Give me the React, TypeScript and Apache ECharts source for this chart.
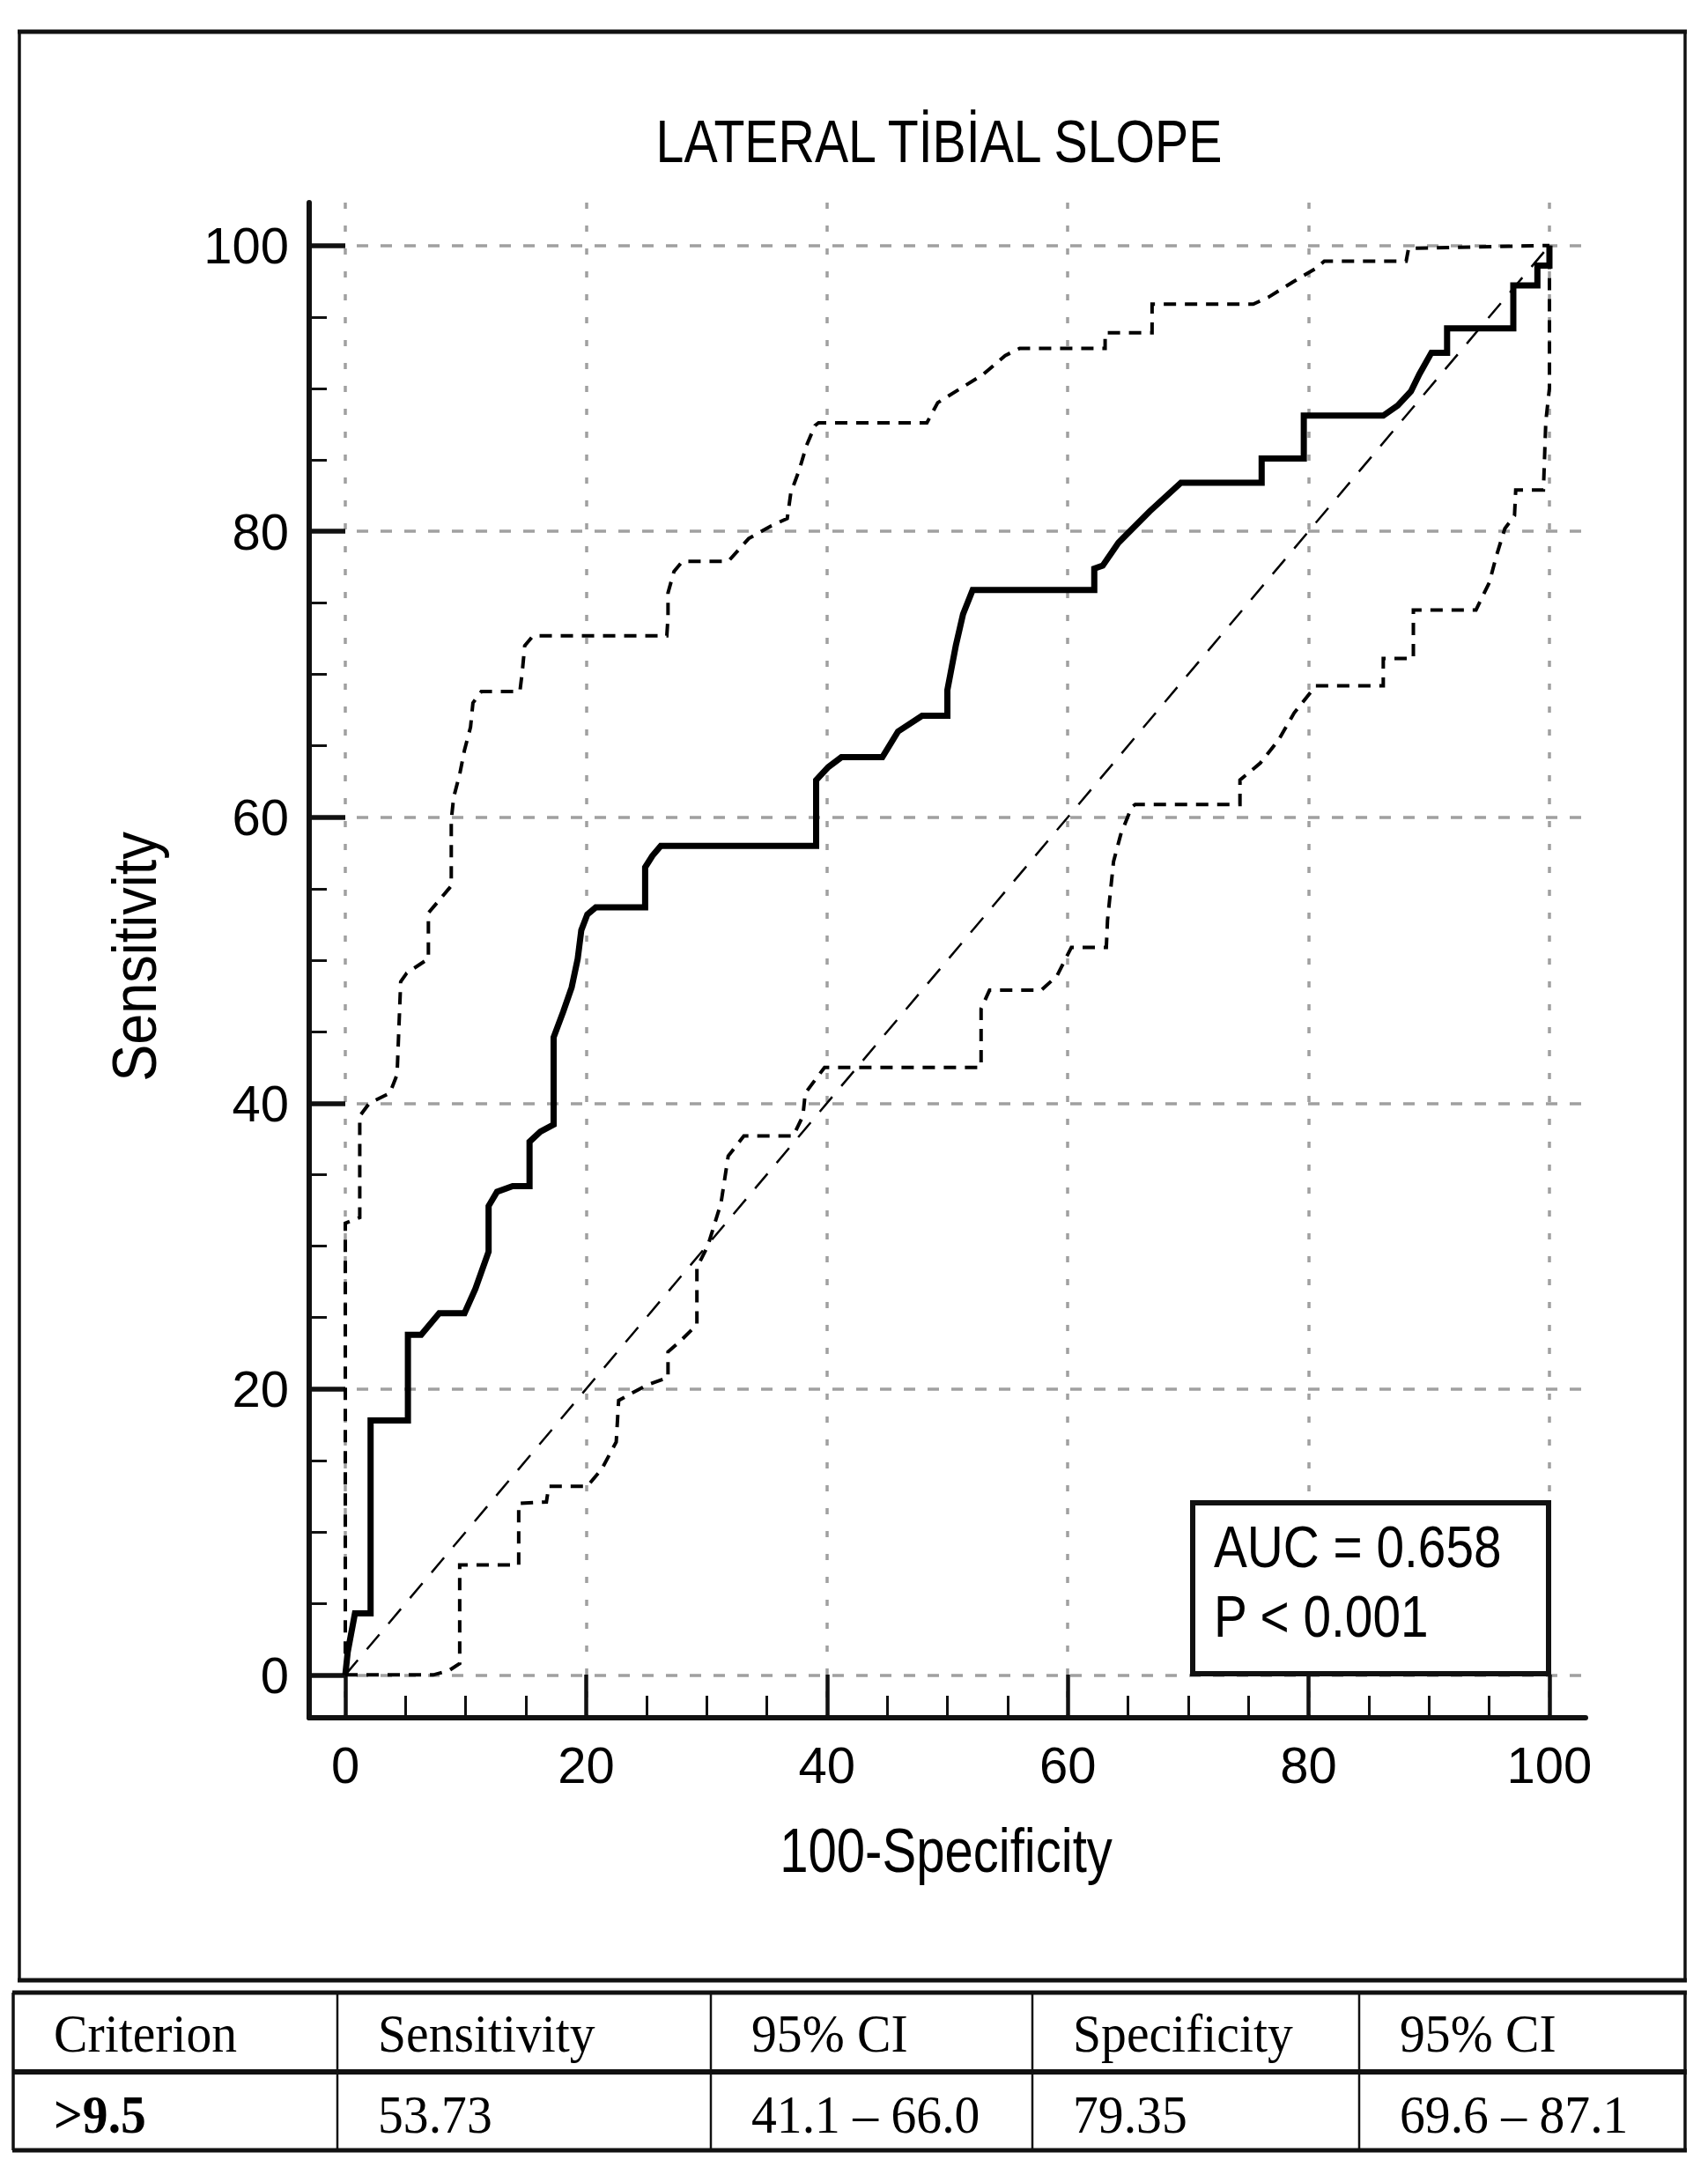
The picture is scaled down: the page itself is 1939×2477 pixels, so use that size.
import React, { useEffect, useRef } from "react";
import * as echarts from "echarts";

const PAGE_W = 1939;
const PAGE_H = 2477;

const titleText = "LATERAL TİBİAL SLOPE";
const xAxisName = "100-Specificity";
const yAxisName = "Sensitivity";
const majorTicks = [0, 20, 40, 60, 80, 100];
const minorTicks = [5, 10, 15, 25, 30, 35, 45, 50, 55, 65, 70, 75, 85, 90, 95];

const diagonal: [number, number][] = [
  [0, 0],
  [100, 100],
];

const rocCurve: [number, number][] = [
  [0, 0], [0.2, 1.6], [0.8, 4.3], [2.1, 4.3], [2.1, 17.8], [5.2, 17.8], [5.2, 23.8],
  [6.3, 23.8], [7.8, 25.3], [9.9, 25.3], [10.8, 27.0], [11.9, 29.6], [11.9, 32.8],
  [12.6, 33.8], [13.9, 34.2], [15.3, 34.2], [15.3, 37.3], [16.2, 38.0], [17.3, 38.5],
  [17.3, 44.6], [18.1, 46.4], [18.8, 48.1], [19.3, 50.1], [19.6, 52.1], [20.1, 53.2],
  [20.8, 53.7], [24.9, 53.7], [24.9, 56.5], [25.5, 57.3], [26.2, 58.0], [39.1, 58.0],
  [39.1, 62.6], [40.1, 63.5], [41.2, 64.2], [44.6, 64.2], [45.9, 66.0], [47.9, 67.1],
  [50.0, 67.1], [50.0, 68.9], [50.7, 72.0], [51.3, 74.2], [52.1, 75.9], [62.2, 75.9],
  [62.2, 77.4], [62.9, 77.6], [64.2, 79.2], [66.8, 81.4], [69.4, 83.4], [76.1, 83.4],
  [76.1, 85.1], [79.6, 85.1], [79.6, 88.1], [86.2, 88.1], [87.4, 88.8], [88.5, 89.8],
  [89.2, 91.0], [90.2, 92.5], [91.5, 92.5], [91.5, 94.2], [97.0, 94.2], [97.0, 97.2],
  [99.0, 97.2], [99.0, 98.6], [100, 98.6], [100, 100],
];

const upperCI: [number, number][] = [
  [0, 0], [0, 31.6], [1.2, 32.0], [1.2, 39.1], [2.0, 40.0], [3.7, 40.7], [4.3, 42.0],
  [4.6, 48.5], [5.1, 49.1], [6.9, 50.1], [6.9, 53.3], [8.6, 55.0], [8.8, 55.2],
  [8.8, 59.8], [9.0, 61.4], [9.5, 63.0], [9.9, 64.7], [10.4, 66.3], [10.6, 68.0],
  [11.3, 68.8], [14.5, 68.8], [14.7, 70.2], [14.9, 72.0], [15.6, 72.7], [26.7, 72.7],
  [26.8, 74.0], [26.8, 75.7], [27.3, 77.2], [28.0, 77.9], [31.8, 77.9], [33.5, 79.5],
  [35.4, 80.4], [36.7, 80.9], [37.0, 82.7], [37.7, 84.3], [38.3, 86.0], [39.0, 87.4],
  [39.3, 87.6], [48.3, 87.6], [49.2, 89.0], [51.1, 90.0], [53.0, 91.0], [54.8, 92.3],
  [56.0, 92.8], [63.1, 92.8], [63.1, 93.9], [67.0, 93.9], [67.0, 95.9], [75.4, 95.9],
  [76.7, 96.4], [78.8, 97.5], [80.6, 98.4], [81.3, 98.9], [88.1, 98.9], [88.3, 99.8],
  [100, 100],
];

const lowerCI: [number, number][] = [
  [0, 0], [7.3, 0], [8.6, 0.3], [9.5, 0.8], [9.5, 7.7], [14.4, 7.7], [14.4, 12.0],
  [16.7, 12.1], [16.9, 13.2], [20.1, 13.2], [21.3, 14.4], [22.5, 16.3], [22.7, 19.2],
  [24.0, 19.8], [25.1, 20.3], [26.8, 20.8], [26.8, 22.6], [28.0, 23.5], [29.2, 24.5],
  [29.2, 28.5], [30.1, 30.0], [31.2, 33.0], [31.8, 36.3], [33.1, 37.7], [37.2, 37.7],
  [38.0, 39.1], [38.2, 40.7], [39.8, 42.5], [52.8, 42.5], [52.8, 46.6], [53.5, 47.9],
  [57.8, 47.9], [59.1, 48.9], [60.3, 50.9], [63.2, 50.9], [63.3, 52.8], [63.8, 56.9],
  [64.4, 58.8], [65.3, 60.7], [65.6, 60.9], [74.3, 60.9], [74.3, 62.6], [76.0, 63.8],
  [77.5, 65.4], [78.8, 67.3], [80.6, 69.2], [86.2, 69.2], [86.2, 71.1], [88.7, 71.1],
  [88.7, 74.5], [93.9, 74.5], [95.0, 76.4], [95.6, 78.3], [96.3, 80.2], [97.1, 81.1],
  [97.2, 82.9], [99.5, 82.9], [99.7, 87.7], [100, 90], [100, 100],
];

const aucLines = ["AUC = 0.658", "P < 0.001"];
const tableHeader = ["Criterion", "Sensitivity", "95% CI", "Specificity", "95% CI"];
const tableRow = [">9.5", "53.73", "41.1 – 66.0", "79.35", "69.6 – 87.1"];

const SANS = "'Liberation Sans Narrow', 'Arial Narrow', 'Liberation Sans', Arial, sans-serif";
const SERIF = "'Liberation Serif', 'Times New Roman', serif";
const NARROW = 0.83;

const GRID = { left: 351, top: 230, width: 1449, height: 1720 };
const TABLE_COLS = [15, 383, 807, 1172, 1543, 1913];
const TABLE_ROWS = [2262, 2352, 2441];

function textEl(
  text: string,
  x: number,
  y: number,
  fontSize: number,
  align: string,
  opts: any = {}
) {
  return {
    type: "text",
    x,
    y,
    z: opts.z ?? 50,
    scaleX: opts.scaleX ?? 1,
    rotation: opts.rotation ?? 0,
    silent: true,
    style: {
      text,
      fontSize,
      fontFamily: opts.fontFamily ?? SANS,
      fontWeight: opts.fontWeight ?? "normal",
      fill: "#000",
      align,
      verticalAlign: "middle",
      textAlign: align,
      textVerticalAlign: "middle",
    },
  };
}

function buildGraphic(): any[] {
  const g: any[] = [];
  const line = (x1: number, y1: number, x2: number, y2: number, w: number) => ({
    type: "line",
    shape: { x1, y1, x2, y2 },
    style: { stroke: "#111", lineWidth: w },
    silent: true,
    z: 50,
  });
  // outer frame
  g.push(line(20, 36, 1915, 36, 5));
  g.push(line(22, 34, 22, 2250, 3.5));
  g.push(line(1913, 34, 1913, 2250, 3.5));
  g.push(line(20, 2248, 1915, 2248, 5));
  // title and axis names (narrow sans imitation)
  g.push(textEl(titleText, 1066, 160, 69, "center", { scaleX: NARROW }));
  g.push(textEl(xAxisName, 1074, 2101, 70, "center", { scaleX: NARROW }));
  g.push(textEl(yAxisName, 153, 1086, 70, "center", { scaleX: 0.9, rotation: Math.PI / 2 }));
  // AUC box
  g.push({
    type: "rect",
    shape: { x: 1354, y: 1706, width: 404, height: 194 },
    style: { fill: "#fff", stroke: "#111", lineWidth: 6 },
    z: 100,
  });
  aucLines.forEach((t, i) => {
    g.push(textEl(t, 1378, 1756 + i * 79, 66, "left", { scaleX: 0.86, z: 101 }));
  });
  // table
  TABLE_ROWS.forEach((y, i) => g.push(line(14, y, 1915, y, i === 1 ? 6 : 5)));
  TABLE_COLS.forEach((x, i) =>
    g.push(line(x, TABLE_ROWS[0], x, TABLE_ROWS[2], i === 0 || i === TABLE_COLS.length - 1 ? 3.5 : 2.5))
  );
  const rowsText = [tableHeader, tableRow];
  rowsText.forEach((row, r) => {
    const yc = r === 0 ? 2308 : 2400;
    row.forEach((t, c) => {
      g.push(
        textEl(t, TABLE_COLS[c] + 46, yc, 62, "left", {
          fontFamily: SERIF,
          fontWeight: r === 1 && c === 0 ? "bold" : "normal",
          scaleX: 0.93,
        })
      );
    });
  });
  return g;
}

function lineSeries(name: string, data: [number, number][], width: number, type: any, z: number) {
  return {
    name,
    type: "line",
    data,
    xAxisIndex: 0,
    yAxisIndex: 0,
    symbol: "none",
    showSymbol: false,
    silent: true,
    z,
    lineStyle: { color: "#000", width, type, cap: "butt", join: "miter" },
  };
}

export default function App() {
  const ref = useRef<HTMLDivElement>(null);
  useEffect(() => {
    if (!ref.current) return;
    const chart = echarts.init(ref.current, undefined, { renderer: "svg" });
    const axisLabelStyle = { fontSize: 58, fontFamily: SANS, color: "#000" };
    const option: any = {
      animation: false,
      backgroundColor: "#fff",
      grid: {
        left: GRID.left,
        top: GRID.top,
        width: GRID.width,
        height: GRID.height,
        containLabel: false,
        outerBoundsMode: "none",
      },
      xAxis: [
        {
          type: "value",
          min: -3,
          max: 103,
          position: "bottom",
          axisLine: { show: true, onZero: false, lineStyle: { color: "#111", width: 6 } },
          axisTick: {
            show: true,
            inside: true,
            length: 49,
            customValues: majorTicks,
            lineStyle: { color: "#111", width: 4.5 },
          },
          axisLabel: { show: true, customValues: majorTicks, margin: 24, ...axisLabelStyle },
          splitLine: { show: true, lineStyle: { color: "#a0a0a0", width: 3.5, type: [7, 19] } },
          minorTick: { show: false },
        },
        {
          type: "value",
          min: -3,
          max: 103,
          position: "bottom",
          axisLine: { show: false, onZero: false },
          axisTick: {
            show: true,
            inside: true,
            length: 25,
            customValues: minorTicks,
            lineStyle: { color: "#111", width: 3 },
          },
          axisLabel: { show: false },
          splitLine: { show: false },
        },
      ],
      yAxis: [
        {
          type: "value",
          min: -3,
          max: 103,
          position: "left",
          axisLine: { show: true, onZero: false, lineStyle: { color: "#111", width: 6 } },
          axisTick: {
            show: true,
            inside: true,
            length: 41,
            customValues: majorTicks,
            lineStyle: { color: "#111", width: 5.5 },
          },
          axisLabel: {
            show: true,
            customValues: majorTicks,
            margin: 23,
            padding: [0, 0, 14, 0],
            ...axisLabelStyle,
          },
          splitLine: { show: true, lineStyle: { color: "#a0a0a0", width: 3.5, type: [13, 14] } },
          minorTick: { show: false },
        },
        {
          type: "value",
          min: -3,
          max: 103,
          position: "left",
          axisLine: { show: false, onZero: false },
          axisTick: {
            show: true,
            inside: true,
            length: 20,
            customValues: minorTicks,
            lineStyle: { color: "#111", width: 3 },
          },
          axisLabel: { show: false },
          splitLine: { show: false },
        },
      ],
      series: [
        lineSeries("Reference", diagonal, 2.5, [22, 16], 3),
        lineSeries("Upper 95% CI", upperCI, 4, [14, 10], 4),
        lineSeries("Lower 95% CI", lowerCI, 4, [14, 10], 4),
        lineSeries("ROC", rocCurve, 7, "solid", 5),
      ],
      graphic: { elements: buildGraphic() },
    };
    chart.setOption(option);
    return () => chart.dispose();
  }, []);
  return (
    <div
      ref={ref}
      style={{ position: "absolute", left: 0, top: 0, width: PAGE_W, height: PAGE_H, background: "#fff" }}
    />
  );
}
